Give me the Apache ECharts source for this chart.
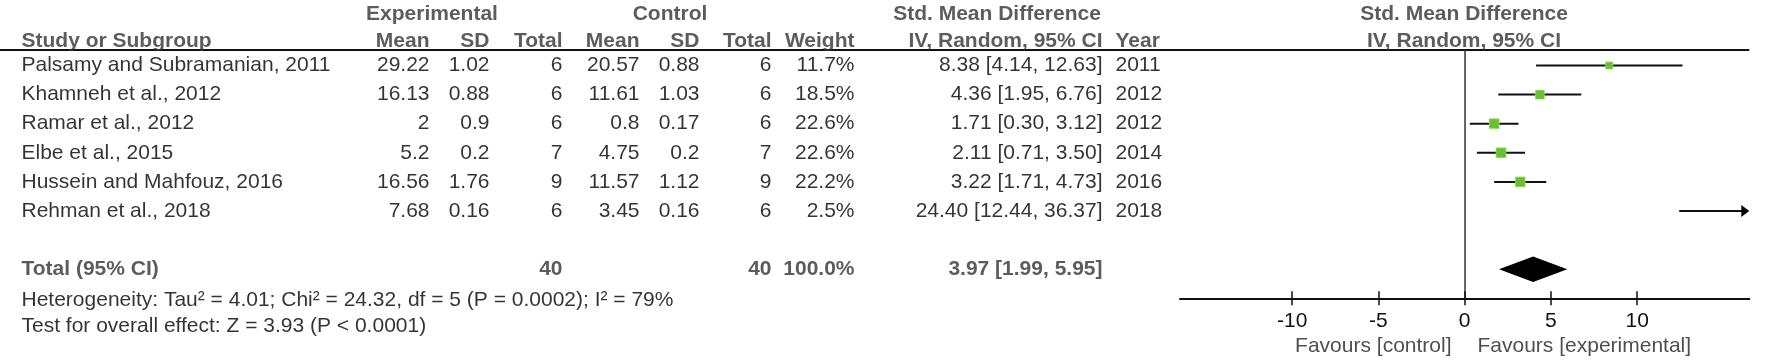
<!DOCTYPE html>
<html>
<head>
<meta charset="utf-8">
<script src="https://cdn.jsdelivr.net/npm/echarts@6/dist/echarts.min.js"></script>
<style>
  html, body { margin: 0; padding: 0; background: #fff; }
  #forest { width: 1772px; height: 362px; }
</style>
</head>
<body>
<div id="forest"></div>
<script>
// ---- data ----
const studies = [
  'Palsamy and Subramanian, 2011',
  'Khamneh et al., 2012',
  'Ramar et al., 2012',
  'Elbe et al., 2015',
  'Hussein and Mahfouz, 2016',
  'Rehman et al., 2018'
];
const expMean = [29.22, 16.13, 2, 5.2, 16.56, 7.68];
const expSD = [1.02, 0.88, 0.9, 0.2, 1.76, 0.16];
const expN = [6, 6, 6, 7, 9, 6];
const ctlMean = [20.57, 11.61, 0.8, 4.75, 11.57, 3.45];
const ctlSD = [0.88, 1.03, 0.17, 0.2, 1.12, 0.16];
const ctlN = [6, 6, 6, 7, 9, 6];
const weights = [11.7, 18.5, 22.6, 22.6, 22.2, 2.5];
const smd = [8.38, 4.36, 1.71, 2.11, 3.22, 24.40];
const ciLow = [4.14, 1.95, 0.30, 0.71, 1.71, 12.44];
const ciHigh = [12.63, 6.76, 3.12, 3.50, 4.73, 36.37];
const years = [2011, 2012, 2012, 2014, 2016, 2018];
const totalN = [40, 40];
const totalWeight = 100.0;
const pooled = [3.97, 1.99, 5.95];   // est, low, high
const heterogeneity = 'Heterogeneity: Tau² = 4.01; Chi² = 24.32, df = 5 (P = 0.0002); I² = 79%';
const overallTest = 'Test for overall effect: Z = 3.93 (P < 0.0001)';
const xTicks = [-10, -5, 0, 5, 10];

// ---- layout ----
const X_MIN = -16.5, X_MAX = 16.5;
const ROW0 = 65.5, ROW_PX = 29.1;      // pixel y of first study row, row pitch
const TOTAL_ROW = 7, AXIS_ROW = 8;
const FS = 21;
const FONT = 'Liberation Sans, Arial, Helvetica, sans-serif';
const TXT = '#000', HEAD = '#333', GREEN = '#69c22c';
const COL = {
  study: 21, expMean: 430, expSD: 490, expN: 563,
  ctlMean: 640, ctlSD: 700, ctlN: 772, weight: 855, ci: 1103, year: 1115,
  expHead: 432, ctlHead: 670, smdHead: 997, plotHead: 1464,
  favL: 1452, favR: 1477
};
const ROW_HEAD1 = -1.77, ROW_HEAD2 = -0.82, ROW_HET = 8.07, ROW_TEST = 8.97, ROW_FAV = 9.66;

const fmt2 = v => v.toFixed(2);
const ciText = (e, l, h) => fmt2(e) + ' [' + fmt2(l) + ', ' + fmt2(h) + ']';

// table cells, placed on the table grid's own axes
const cells = [];
function cell(x, row, text, align, bold, color) {
  const pos = align === 'left' ? 'right' : align === 'right' ? 'left' : 'inside';
  cells.push({
    name: String(text),
    value: [x, row],
    label: {
      position: pos, distance: 0,
      fontWeight: bold ? 'bold' : 'normal',
      color: color || TXT
    }
  });
}
cell(COL.expHead, ROW_HEAD1, 'Experimental', 'center', true, HEAD);
cell(COL.ctlHead, ROW_HEAD1, 'Control', 'center', true, HEAD);
cell(COL.smdHead, ROW_HEAD1, 'Std. Mean Difference', 'center', true, HEAD);
cell(COL.plotHead, ROW_HEAD1, 'Std. Mean Difference', 'center', true, HEAD);
cell(COL.study, ROW_HEAD2, 'Study or Subgroup', 'left', true, HEAD);
cell(COL.expMean, ROW_HEAD2, 'Mean', 'right', true, HEAD);
cell(COL.expSD, ROW_HEAD2, 'SD', 'right', true, HEAD);
cell(COL.expN, ROW_HEAD2, 'Total', 'right', true, HEAD);
cell(COL.ctlMean, ROW_HEAD2, 'Mean', 'right', true, HEAD);
cell(COL.ctlSD, ROW_HEAD2, 'SD', 'right', true, HEAD);
cell(COL.ctlN, ROW_HEAD2, 'Total', 'right', true, HEAD);
cell(COL.weight, ROW_HEAD2, 'Weight', 'right', true, HEAD);
cell(COL.ci, ROW_HEAD2, 'IV, Random, 95% CI', 'right', true, HEAD);
cell(COL.year, ROW_HEAD2, 'Year', 'left', true, HEAD);
cell(COL.plotHead, ROW_HEAD2, 'IV, Random, 95% CI', 'center', true, HEAD);

studies.forEach((s, i) => {
  cell(COL.study, i, s, 'left');
  cell(COL.expMean, i, expMean[i], 'right');
  cell(COL.expSD, i, expSD[i], 'right');
  cell(COL.expN, i, expN[i], 'right');
  cell(COL.ctlMean, i, ctlMean[i], 'right');
  cell(COL.ctlSD, i, ctlSD[i], 'right');
  cell(COL.ctlN, i, ctlN[i], 'right');
  cell(COL.weight, i, weights[i].toFixed(1) + '%', 'right');
  cell(COL.ci, i, ciText(smd[i], ciLow[i], ciHigh[i]), 'right');
  cell(COL.year, i, years[i], 'left');
});
cell(COL.study, TOTAL_ROW, 'Total (95% CI)', 'left', true, HEAD);
cell(COL.expN, TOTAL_ROW, totalN[0], 'right', true, HEAD);
cell(COL.ctlN, TOTAL_ROW, totalN[1], 'right', true, HEAD);
cell(COL.weight, TOTAL_ROW, totalWeight.toFixed(1) + '%', 'right', true, HEAD);
cell(COL.ci, TOTAL_ROW, ciText(pooled[0], pooled[1], pooled[2]), 'right', true, HEAD);
cell(COL.study, ROW_HET, heterogeneity, 'left');
cell(COL.study, ROW_TEST, overallTest, 'left');
cell(COL.favL, ROW_FAV, 'Favours [control]', 'right', false, '#222');
cell(COL.favR, ROW_FAV, 'Favours [experimental]', 'left', false, '#222');

const studyData = studies.map((s, i) => [i, smd[i], ciLow[i], ciHigh[i], weights[i]]);
const pooledData = [[TOTAL_ROW, pooled[0], pooled[1], pooled[2]]];

const chart = echarts.init(document.getElementById('forest'), null, { renderer: 'canvas' });

const yMinPlot = (50 - ROW0) / ROW_PX;   // header rule sits at y = 50
const plotGrid = {
  left: 1180, width: 569.3, top: 50,
  height: ROW0 + AXIS_ROW * ROW_PX - 50,
  outerBoundsMode: 'none'
};

chart.setOption({
  animation: false,
  textStyle: { fontFamily: FONT },
  grid: [
    Object.assign({}, plotGrid),
    Object.assign({}, plotGrid),
    { left: 0, top: 0, width: 1772, height: 362, outerBoundsMode: 'none' }
  ],
  xAxis: [
    {
      type: 'value', gridIndex: 0, min: X_MIN, max: X_MAX, position: 'bottom',
      axisLine: { onZero: false, lineStyle: { color: '#111', width: 2 } },
      axisTick: { customValues: xTicks, length: 7, lineStyle: { color: '#111', width: 1.5 } },
      axisLabel: { customValues: xTicks, fontSize: FS, color: '#111', margin: 12, fontFamily: FONT },
      splitLine: { show: false }
    },
    {
      type: 'value', gridIndex: 1, min: X_MIN, max: X_MAX, position: 'bottom',
      axisLine: { show: false, onZero: false },
      axisTick: { customValues: xTicks, inside: true, length: 7, lineStyle: { color: '#111', width: 1.5 } },
      axisLabel: { show: false },
      splitLine: { show: false }
    },
    { type: 'value', gridIndex: 2, min: 0, max: 1772, show: false }
  ],
  yAxis: [
    {
      type: 'value', gridIndex: 0, inverse: true, min: yMinPlot, max: AXIS_ROW,
      axisLine: { show: true, onZero: true, lineStyle: { color: '#333', width: 1.5 } },
      axisTick: { show: false }, axisLabel: { show: false }, splitLine: { show: false }
    },
    {
      type: 'value', gridIndex: 1, inverse: true, min: yMinPlot, max: AXIS_ROW, show: false
    },
    {
      type: 'value', gridIndex: 2, inverse: true,
      min: -ROW0 / ROW_PX, max: (362 - ROW0) / ROW_PX, show: false
    }
  ],
  graphic: [{
    type: 'line', silent: true,
    shape: { x1: 0, y1: 50, x2: 1749.3, y2: 50 },
    style: { stroke: '#111', lineWidth: 2 }
  }],
  series: [
    {
      type: 'scatter', xAxisIndex: 2, yAxisIndex: 2, silent: true,
      symbol: 'rect', symbolSize: 1, itemStyle: { color: 'rgba(0,0,0,0)' },
      label: { show: true, formatter: '{b}', fontSize: FS, fontFamily: FONT, color: TXT },
      data: cells
    },
    {
      type: 'custom', xAxisIndex: 0, yAxisIndex: 0, silent: true,
      encode: { x: [1, 2, 3], y: 0 },
      data: studyData,
      renderItem: function (params, api) {
        const row = api.value(0), est = api.value(1), lo = api.value(2), hi = api.value(3), w = api.value(4);
        const p0 = api.coord([Math.max(lo, X_MIN), row]);
        const p1 = api.coord([Math.min(hi, X_MAX), row]);
        const children = [];
        if (hi > X_MAX) {
          // interval runs off the scale: draw an arrow to the edge
          children.push({ type: 'line', shape: { x1: p0[0], y1: p0[1], x2: p1[0] - 6, y2: p1[1] }, style: { stroke: '#111', lineWidth: 2 } });
          children.push({ type: 'polygon', shape: { points: [[p1[0], p1[1]], [p1[0] - 8, p1[1] - 6], [p1[0] - 8, p1[1] + 6]] }, style: { fill: '#000' } });
        } else {
          children.push({ type: 'line', shape: { x1: p0[0], y1: p0[1], x2: p1[0], y2: p1[1] }, style: { stroke: '#111', lineWidth: 2 } });
        }
        if (est >= X_MIN && est <= X_MAX) {
          const c = api.coord([est, row]);
          const s = 2.1 * Math.sqrt(w);   // box area follows study weight
          children.push({ type: 'rect', shape: { x: c[0] - s / 2, y: c[1] - s / 2, width: s, height: s }, style: { fill: GREEN, stroke: '#a3e27f', lineWidth: 0.6 } });
        }
        return { type: 'group', children: children };
      }
    },
    {
      type: 'custom', xAxisIndex: 0, yAxisIndex: 0, silent: true,
      encode: { x: [1, 2, 3], y: 0 },
      data: pooledData,
      renderItem: function (params, api) {
        const row = api.value(0);
        const c = api.coord([api.value(1), row]);
        const l = api.coord([api.value(2), row]);
        const r = api.coord([api.value(3), row]);
        const h = 12.8;
        return {
          type: 'polygon',
          shape: { points: [[l[0], c[1]], [c[0], c[1] - h], [r[0], c[1]], [c[0], c[1] + h]] },
          style: { fill: '#000' }
        };
      }
    }
  ]
});
</script>
</body>
</html>
